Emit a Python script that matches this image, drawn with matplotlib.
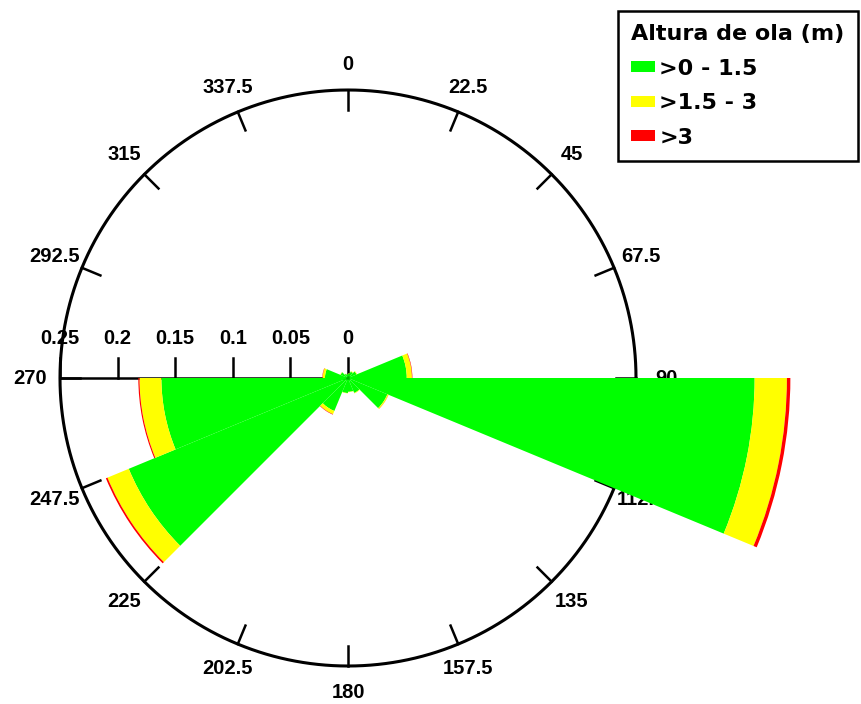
import numpy as np
import matplotlib
matplotlib.use("Agg")
import matplotlib.pyplot as plt
from matplotlib.patches import Patch

plt.rcParams['font.family'] = ['Liberation Sans', 'DejaVu Sans']

# Wave rose: frequency of occurrence per 22.5-degree direction sector
directions = [0, 22.5, 45, 67.5, 90, 112.5, 135, 157.5,
              180, 202.5, 225, 247.5, 270, 292.5, 315, 337.5]
freq_low = [0.004, 0.006, 0.008, 0.051, 0.353, 0.037, 0.014, 0.012,
            0.013, 0.031, 0.206, 0.162, 0.020, 0.007, 0.004, 0.003]
freq_mid = [0.0003, 0.0005, 0.0005, 0.0045, 0.028, 0.001, 0.0005, 0.0003,
            0.0003, 0.003, 0.020, 0.019, 0.002, 0.0003, 0.0002, 0.0002]
freq_high = [0.0, 0.0, 0.0, 0.0004, 0.003, 0.0001, 0.0, 0.0,
             0.0, 0.0004, 0.0015, 0.001, 0.0003, 0.0, 0.0, 0.0]
class_labels = ['>0 - 1.5', '>1.5 - 3', '>3']
class_colors = ['#00ff00', '#ffff00', '#ff0000']
radial_ticks = [0, 0.05, 0.1, 0.15, 0.2, 0.25]
legend_title = 'Altura de ola (m)'
r_max = 0.25

W, H = 861, 704
fig = plt.figure(figsize=(W / 100, H / 100), dpi=100)
cx, cy, R = 348, 378, 288
px = r_max / R  # data units per pixel
rect = [(cx - R) / W, (H - cy - R) / H, 2 * R / W, 2 * R / H]

# Cartesian layer underneath for the frame circle, ticks and labels
base = fig.add_axes(rect, zorder=0)
base.set_xlim(-r_max, r_max)
base.set_ylim(-r_max, r_max)
base.axis('off')

# Polar layer on top for the stacked sectors
ax = fig.add_axes(rect, projection='polar', zorder=1)
ax.set_theta_zero_location('N')
ax.set_theta_direction(-1)
ax.set_ylim(0, r_max)
ax.patch.set_alpha(0)
ax.grid(False)
ax.set_xticks([])
ax.set_yticks([])
ax.spines['polar'].set_visible(False)

theta = np.deg2rad(directions)
width = np.deg2rad(22.5)
bottom = np.zeros(len(directions))
for vals, color in zip([freq_low, freq_mid, freq_high], class_colors):
    vals = np.asarray(vals)
    ax.bar(theta, vals, width=width, bottom=bottom, align='edge',
           color=color, edgecolor='none', clip_on=False)
    bottom = bottom + vals

# Outer circle
t = np.linspace(0, 2 * np.pi, 721)
base.plot(r_max * np.cos(t), r_max * np.sin(t), color='black', lw=2.2,
          clip_on=False, solid_capstyle='butt')

label_font = dict(fontsize=14.5, fontweight='bold', color='black')
tick_len = 20 * px
for d in directions:
    a = np.deg2rad(d)
    sx, sy = np.sin(a), np.cos(a)
    base.plot([sx * (r_max - tick_len), sx * r_max],
              [sy * (r_max - tick_len), sy * r_max],
              color='black', lw=1.8, clip_on=False)
    label_r = (314 + 4 * sx ** 2) * px
    base.text(sx * label_r, sy * label_r, f'{d:g}', ha='center', va='center',
              clip_on=False, **label_font)

# Radial scale along the west direction
base.plot([-r_max, 0], [0, 0], color='black', lw=1.8, clip_on=False)
for v in radial_ticks:
    base.plot([-v, -v], [0, tick_len], color='black', lw=1.8, clip_on=False)
    base.text(-v, 40 * px, f'{v:g}', ha='center', va='center',
              clip_on=False, **label_font)

handles = [Patch(facecolor=c, edgecolor='none', label=l)
           for c, l in zip(class_colors, class_labels)]
leg_font = {'family': 'DejaVu Sans', 'weight': 'bold', 'size': 16}
leg = fig.legend(handles=handles, title=legend_title, loc='upper right',
                 bbox_to_anchor=(858 / W, 1 - 11 / H), borderaxespad=0,
                 frameon=True, fancybox=False, framealpha=1, edgecolor='black',
                 prop=leg_font, title_fontproperties=leg_font,
                 handlelength=1.05, handleheight=0.4, handletextpad=0.2,
                 labelspacing=0.65, borderpad=0.6, alignment='left')
leg.get_frame().set_linewidth(1.8)

fig.savefig('out.png', dpi=100, facecolor='white')
